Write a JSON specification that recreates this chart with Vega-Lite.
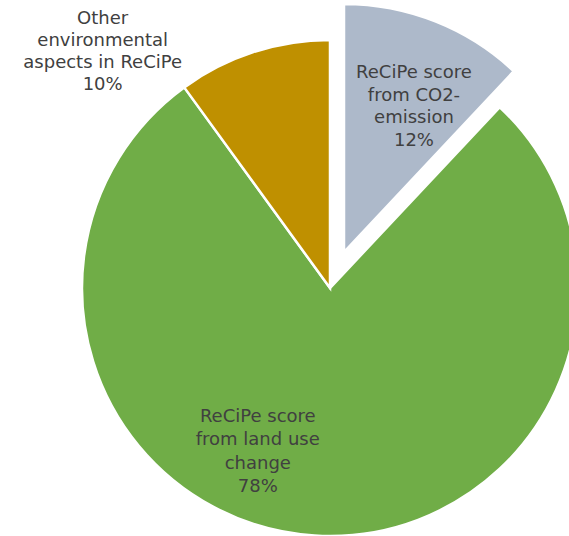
{
  "$schema": "https://vega.github.io/schema/vega-lite/v6.json",
  "width": 478,
  "height": 496,
  "autosize": {"type": "none"},
  "padding": {"left": 91, "top": 40, "right": 0, "bottom": 0},
  "background": "white",
  "view": {"stroke": null},
  "config": {"text": {"font": "DejaVu Sans"}},
  "data": {
    "values": [
      {"cat": "co2", "label": "ReCiPe score\nfrom CO2-\nemission\n12%", "value": 12, "order": 1},
      {"cat": "land", "label": "ReCiPe score\nfrom land use\nchange\n78%", "value": 78, "order": 2},
      {"cat": "other", "label": "Other\nenvironmental\naspects in ReCiPe\n10%", "value": 10, "order": 3}
    ]
  },
  "encoding": {
    "theta": {"field": "value", "type": "quantitative", "stack": true},
    "order": {"field": "order", "type": "quantitative"}
  },
  "layer": [
    {
      "mark": {"type": "arc", "radius": 248, "stroke": "white", "strokeWidth": 2.5},
      "encoding": {
        "color": {"field": "cat", "type": "nominal", "legend": null,
          "scale": {"domain": ["co2", "land", "other"], "range": ["#ADB9CA", "#70AD47", "#BF9000"]}},
        "opacity": {"condition": {"test": "datum.cat == 'co2'", "value": 0}, "value": 1}
      }
    },
    {
      "mark": {"type": "arc", "radius": 248, "stroke": "white", "strokeWidth": 2.5, "xOffset": 14, "yOffset": -36},
      "encoding": {
        "color": {"field": "cat", "type": "nominal", "legend": null},
        "opacity": {"condition": {"test": "datum.cat == 'co2'", "value": 1}, "value": 0}
      }
    },
    {
      "mark": {"type": "text", "radius": 190, "dx": 14, "dy": -38, "fontSize": 18, "lineHeight": 22.5, "lineBreak": "\n", "color": "#404040", "align": "center", "baseline": "middle"},
      "encoding": {
        "text": {"condition": {"test": "datum.cat == 'co2'", "field": "label"}, "value": ""}
      }
    },
    {
      "mark": {"type": "text", "radius": 179, "dx": -61, "dy": -50, "fontSize": 18, "lineHeight": 23.5, "lineBreak": "\n", "color": "#404040", "align": "center", "baseline": "middle"},
      "encoding": {
        "text": {"condition": {"test": "datum.cat == 'land'", "field": "label"}, "value": ""}
      }
    },
    {
      "mark": {"type": "text", "radius": 260, "dx": -147, "dy": -22, "fontSize": 18, "lineHeight": 22, "lineBreak": "\n", "color": "#404040", "align": "center", "baseline": "middle"},
      "encoding": {
        "text": {"condition": {"test": "datum.cat == 'other'", "field": "label"}, "value": ""}
      }
    }
  ]
}
